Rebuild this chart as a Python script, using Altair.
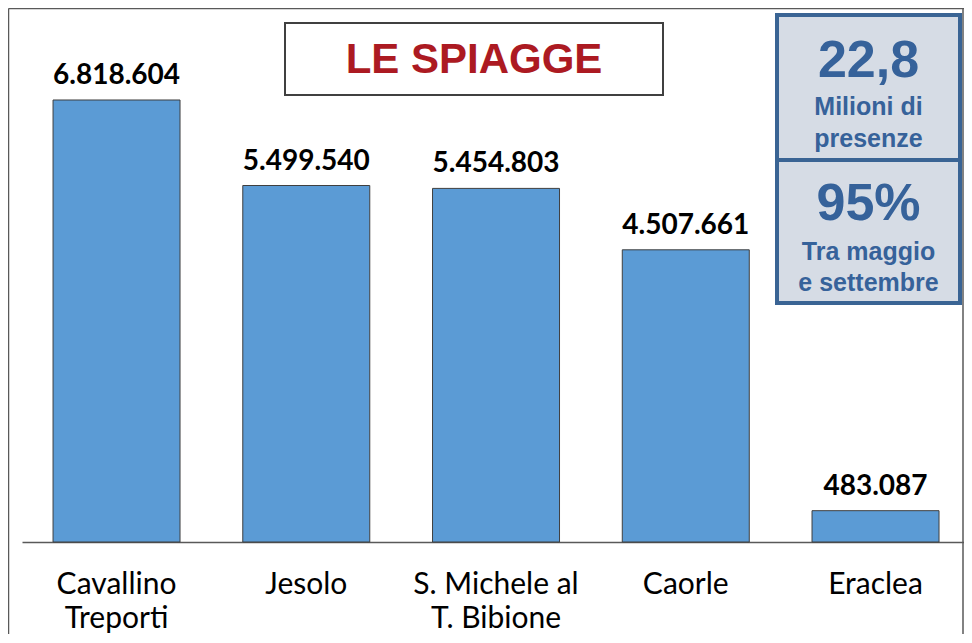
import altair as alt
import pandas as pd

# ---- data ----
categories = ["Cavallino\nTreporti", "Jesolo", "S. Michele al\nT. Bibione", "Caorle", "Eraclea"]
presenze = [6818604, 5499540, 5454803, 4507661, 483087]
title_text = ["LE SPIAGGE"]
box_top_lines = ["22,8", "Milioni di", "presenze"]
box_bottom_lines = ["95%", "Tra maggio", "e settembre"]

labels = [f"{v:,}".replace(",", ".") for v in presenze]
df = pd.DataFrame({"cat": categories, "val": presenze, "lab": labels})
one = pd.DataFrame({"k": [0]})

W, H = 942, 534
BLUE_TXT = "#36629A"
BOX_FILL = "#D6DCE5"

x = alt.X(
    "cat:N", sort=None, title=None,
    scale=alt.Scale(paddingInner=0.3307, paddingOuter=0.1476, align=0.554),
    axis=alt.Axis(labelAngle=0, ticks=False, domainColor="#595959", domainWidth=1.5,
                  labelFont="Lato", labelFontSize=30, labelColor="#000000",
                  labelPadding=27, labelLineHeight=34, labelLimit=400,
                  labelExpr="split(datum.label, '\\n')"),
)
y = alt.Y("val:Q", scale=alt.Scale(domain=[0, 8237860], nice=False, zero=True), axis=None)

bars = alt.Chart(df).mark_bar(color="#5B9BD5", stroke="#3F3F3F", strokeWidth=1).encode(x=x, y=y)
vals = alt.Chart(df).mark_text(font="Lato", fontWeight="bold", fontSize=28, dy=-16,
                               baseline="alphabetic", color="#000000").encode(x=x, y=y, text="lab:N")

frame_color = "#595959"
frame_left = alt.Chart(one).mark_rule(color=frame_color, strokeWidth=1.5).encode(
    x=alt.value(-13.5), y=alt.value(0.5), y2=alt.value(H + 100))
frame_top = alt.Chart(one).mark_rule(color=frame_color, strokeWidth=1.5).encode(
    x=alt.value(-13.5), x2=alt.value(W), y=alt.value(0.5))
frame_right = alt.Chart(one).mark_rule(color=frame_color, strokeWidth=1.5).encode(
    x=alt.value(W - 1), y=alt.value(0.5), y2=alt.value(H + 100))

title_box = alt.Chart(one).mark_rect(fill="white", stroke="#404040", strokeWidth=2).encode(
    x=alt.value(263), x2=alt.value(641), y=alt.value(15), y2=alt.value(87))
title_txt = alt.Chart(one).mark_text(font="Liberation Sans", fontWeight="bold", fontSize=42,
                                     color="#AC1A22", baseline="alphabetic").encode(
    x=alt.value(452), y=alt.value(65), text=alt.value(title_text[0]))

info_box = alt.Chart(one).mark_rect(fill=BOX_FILL, stroke="#3A6494", strokeWidth=4).encode(
    x=alt.value(755), x2=alt.value(938), y=alt.value(7), y2=alt.value(295))
divider = alt.Chart(one).mark_rule(color="#3A6494", strokeWidth=4).encode(
    x=alt.value(755), x2=alt.value(938), y=alt.value(152))

info_layers = []
for lines, ys in ((box_top_lines, (69, 107, 139)), (box_bottom_lines, (212, 252, 283))):
    for i, (t, yy) in enumerate(zip(lines, ys)):
        info_layers.append(
            alt.Chart(one).mark_text(font="Liberation Sans", fontWeight="bold",
                                     fontSize=52 if i == 0 else 25, color=BLUE_TXT,
                                     baseline="alphabetic").encode(
                x=alt.value(846.5), y=alt.value(yy), text=alt.value(t)))

chart = alt.layer(bars, vals, frame_left, frame_top, frame_right, title_box, title_txt,
                  info_box, divider, *info_layers).properties(
    width=W, height=H,
    padding={"left": 14, "top": 0, "right": 0, "bottom": 92},
    autosize=alt.AutoSizeParams(type="none"),
).configure_view(stroke=None)

chart.save("out.html", embed_options={"renderer": "svg", "actions": False})
